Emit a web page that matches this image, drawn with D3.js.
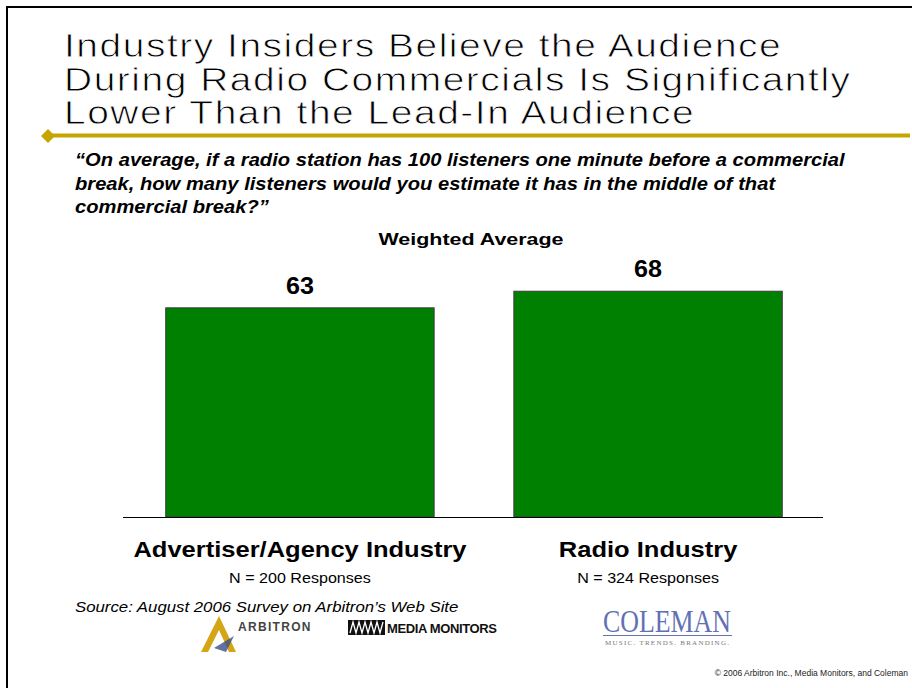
<!DOCTYPE html>
<html>
<head>
<meta charset="utf-8">
<script src="https://cdn.jsdelivr.net/npm/d3@7"></script>
<style>
  body { margin: 0; background: #fff; }
  svg { display: block; font-family: "Liberation Sans", Arial, sans-serif; }
</style>
</head>
<body>
<svg id="chart" width="912" height="688"></svg>
<script>
var titleLines = [
  'Industry Insiders Believe the Audience',
  'During Radio Commercials Is Significantly',
  'Lower Than the Lead-In Audience'
];
var questionLines = [
  '\u201cOn average, if a radio station has 100 listeners one minute before a commercial',
  'break, how many listeners would you estimate it has in the middle of that',
  'commercial break?\u201d'
];
var categories = ['Advertiser/Agency Industry', 'Radio Industry'];
var values = [63, 68];
var sampleLabels = ['N = 200 Responses', 'N = 324 Responses'];

var svg = d3.select('#chart');
var gold = '#c6a500';

// text drawn at (x,y) and stretched sideways, the slide fonts are wide
function wideText(parent, x, y, sx, str) {
  return parent.append('g')
    .attr('transform', 'translate(' + x + ',' + y + ') scale(' + sx + ',1)')
    .append('text')
    .text(str);
}

// slide frame
svg.append('path')
  .attr('d', 'M7,688 V7 H912')
  .attr('fill', 'none')
  .attr('stroke', '#000')
  .attr('stroke-width', 2);

// title - light and a bit spaced out like the slide font
titleLines.forEach(function(d, i) {
  wideText(svg, 64, 57 + i * 33.5, 1.18, d)
    .attr('font-size', 33)
    .attr('letter-spacing', 1.3)
    .attr('fill', '#000')
    .attr('stroke', '#fff')
    .attr('stroke-width', 0.8)
    .attr('paint-order', 'fill');
});

// gold rule with diamond
svg.append('rect')
  .attr('x', 48).attr('y', 133.5)
  .attr('width', 862).attr('height', 4)
  .attr('fill', gold);
svg.append('path')
  .attr('d', 'M41,136 L48,129 L55,136 L48,143 Z')
  .attr('fill', gold);

// question
questionLines.forEach(function(d, i) {
  wideText(svg, 75, 166 + i * 23.5, 1.12, d)
    .attr('font-size', 18)
    .attr('font-weight', 'bold')
    .attr('font-style', 'italic');
});

wideText(svg, 471, 245, 1.3, 'Weighted Average')
  .attr('text-anchor', 'middle')
  .attr('font-size', 16.5)
  .attr('font-weight', 'bold');

// scales
var x = d3.scaleBand()
  .domain(categories)
  .range([125, 823])
  .paddingInner(0.229)
  .paddingOuter(0.117);
var y = d3.scaleLinear()
  .domain([0, 100])
  .range([517, 185]);

var g = svg.append('g');

g.selectAll('.bar')
  .data(values)
  .enter()
  .append('rect')
  .attr('class', 'bar')
  .attr('x', function(d, i) { return x(categories[i]); })
  .attr('y', function(d) { return y(d); })
  .attr('width', x.bandwidth())
  .attr('height', function(d) { return y(0) - y(d); })
  .attr('fill', '#008000')
  .attr('stroke', '#3a3a3a')
  .attr('stroke-width', 1);

values.forEach(function(d, i) {
  wideText(g, x(categories[i]) + x.bandwidth() / 2, y(d) - 14, 1.05, d)
    .attr('text-anchor', 'middle')
    .attr('font-size', 24)
    .attr('font-weight', 'bold');
});

// baseline axis
var axis = d3.axisBottom(x).tickSize(0).tickFormat('');
var ax = svg.append('g')
  .attr('transform', 'translate(0,' + y(0) + ')')
  .call(axis);
ax.select('.domain')
  .attr('d', 'M123,0.5 H823')
  .attr('stroke', '#000')
  .attr('stroke-width', 1.2);

categories.forEach(function(d, i) {
  var cx = x(d) + x.bandwidth() / 2;
  wideText(g, cx, 557, 1.16, d)
    .attr('text-anchor', 'middle')
    .attr('font-size', 22)
    .attr('font-weight', 'bold');
  wideText(g, cx, 583, 1.15, sampleLabels[i])
    .attr('text-anchor', 'middle')
    .attr('font-size', 14);
});

wideText(svg, 75, 612, 1.12, 'Source:  August 2006 Survey on Arbitron\u2019s Web Site')
  .attr('font-size', 15)
  .attr('font-style', 'italic');

// logos
var logos = svg.append('g');
// Arbitron
logos.append('path')
  .attr('d', 'M201,652 L219,616 L236,652 L229,652 L219,630 L208,652 Z')
  .attr('fill', '#d4a514');
logos.append('path')
  .attr('d', 'M214,648 L234,636 L226,652 Z')
  .attr('fill', '#3a4f8a')
  .attr('opacity', 0.8);
logos.append('text')
  .attr('x', 238).attr('y', 631)
  .attr('font-size', 12)
  .attr('font-weight', 'bold')
  .attr('letter-spacing', 1.3)
  .attr('fill', '#444')
  .text('ARBITRON');
// Media Monitors
logos.append('rect')
  .attr('x', 348).attr('y', 620)
  .attr('width', 37).attr('height', 15)
  .attr('fill', '#111');
logos.append('path')
  .attr('d', 'M350,633 L353,622 L356,633 L359,622 L362,633 L365,622 L368,633 L371,622 L374,633 L377,622 L380,633 L383,622')
  .attr('fill', 'none')
  .attr('stroke', '#fff')
  .attr('stroke-width', 1.3);
logos.append('text')
  .attr('x', 387).attr('y', 633)
  .attr('font-size', 13)
  .attr('font-weight', 'bold')
  .attr('fill', '#111')
  .attr('textLength', 110)
  .text('MEDIA MONITORS');
// Coleman
logos.append('text')
  .attr('x', 603).attr('y', 632)
  .attr('font-family', '"Liberation Serif", serif')
  .attr('font-size', 31)
  .attr('fill', '#6270b4')
  .attr('textLength', 128)
  .attr('lengthAdjust', 'spacingAndGlyphs')
  .text('COLEMAN');
logos.append('rect')
  .attr('x', 603).attr('y', 635)
  .attr('width', 129).attr('height', 1)
  .attr('fill', '#6270b4');
logos.append('text')
  .attr('x', 605).attr('y', 645)
  .attr('font-family', '"Liberation Serif", serif')
  .attr('font-size', 7)
  .attr('fill', '#777')
  .attr('textLength', 124)
  .text('MUSIC.  TRENDS.  BRANDING.');

svg.append('text')
  .attr('x', 908).attr('y', 676)
  .attr('text-anchor', 'end')
  .attr('font-size', 8.5)
  .attr('fill', '#222')
  .text('\u00a9 2006 Arbitron Inc., Media Monitors, and Coleman');
</script>
</body>
</html>
